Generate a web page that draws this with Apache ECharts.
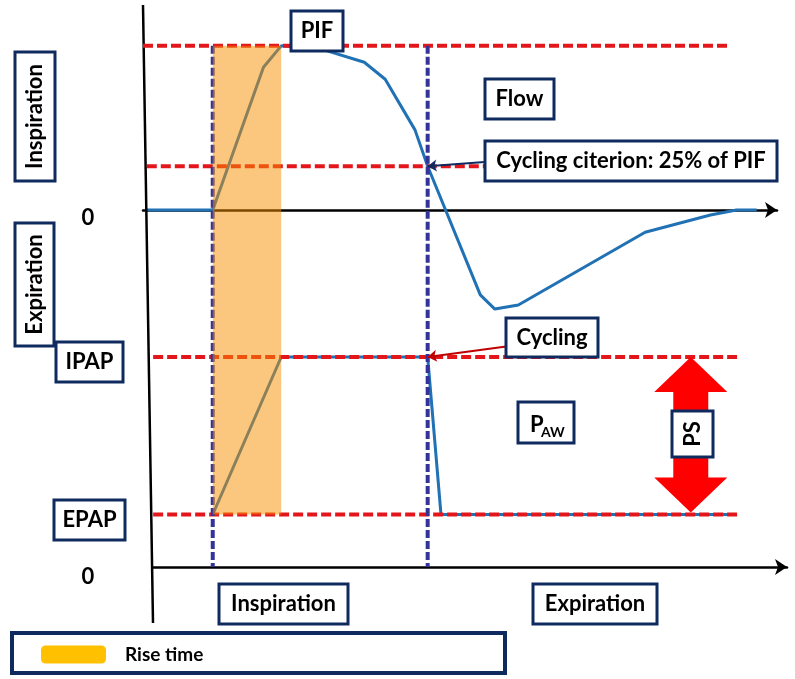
<!DOCTYPE html>
<html>
<head>
<meta charset="utf-8">
<script src="https://cdn.jsdelivr.net/npm/echarts@6/dist/echarts.min.js"></script>
<style>
html,body{margin:0;padding:0;background:#fff;}
#chart{width:795px;height:679px;}
</style>
</head>
<body>
<div id="chart"></div>
<script>
// ---------- DATA (time in arbitrary units, flow in L/min, pressure in cmH2O) ----------
const flowTimes  = [0.3, 11, 19, 21.8, 27.9, 34.9, 38.2, 42.9, 44.9, 53.2, 55.5, 59.2, 79.2, 89.5, 93.6, 96.8];
const flowValues = [0,   0,  52.2, 60,  59,   54,   47.8, 29.3, 16,  -31, -36.2, -34.7, -8.1, -1.8, 0,   0];
const pawTimes   = [11, 21.8, 44.9, 47.0, 93.7];
const pawValues  = [5,  20,   20,   5,    5];

const PIF = 60;            // peak inspiratory flow
const CYCLE_FLOW = 16;     // cycling criterion level
const IPAP = 20;
const EPAP = 5;
const T_INSP = 11;         // start of inspiration
const T_RISE_END = 21.8;   // end of rise time
const T_CYCLE = 44.9;      // cycling instant
const T_PS = 86.4;         // position of PS arrow

// reference line extents [start, end]
const pifLineSpan   = [0, 92.3];
const cycleLineSpan = [0.6, 53.9];
const pawLineSpan   = [1.6, 93.7];

// annotation arrows: [from, to]
const cycleCritArrow = [[53.9, 17.6], [T_CYCLE, CYCLE_FLOW]];
const cyclingArrow   = [[57.3, 21.0], [T_CYCLE, IPAP]];

// ---------- LAYOUT ----------
const SPLIT_FLOW = -36.53;  // flow value where the two panels meet
const SPLIT_PAW  = 24.48;   // pressure value where the two panels meet
const FONT = 'Lato, "Open Sans", sans-serif';
const NAVY = '#0f2a5f';
const RED = '#e3161c';
const VIOLET = '#33339a';
const BLUE = '#2171b5';

const zip = (a, b) => a.map((v, i) => [v, b[i]]);

function hLine(grid, span, y, z) {
  return {
    type: 'line', xAxisIndex: grid, yAxisIndex: grid, z: z,
    data: [[span[0], y], [span[1], y]], symbol: 'none', silent: true,
    lineStyle: {color: RED, width: 4, type: [10, 4]}
  };
}
function vLine(grid, x, y0, y1) {
  return {
    type: 'line', xAxisIndex: grid, yAxisIndex: grid, z: 3.5,
    data: [[x, y0], [x, y1]], symbol: 'none', silent: true,
    lineStyle: {color: VIOLET, width: 4, type: [8, 3]}
  };
}
function band(grid, yTop, yBot) {
  return {
    type: 'custom', name: 'Rise time', xAxisIndex: grid, yAxisIndex: grid, z: 4,
    itemStyle: {color: '#ffc000'}, silent: true,
    data: [[T_INSP, T_RISE_END, yTop, yBot]],
    encode: {x: [0, 1], y: [2, 3]},
    renderItem: function (params, api) {
      const p1 = api.coord([api.value(0), api.value(2)]);
      const p2 = api.coord([api.value(1), api.value(3)]);
      return {type: 'rect', shape: {x: p1[0], y: p1[1], width: p2[0] - p1[0], height: p2[1] - p1[1]},
              style: {fill: 'rgba(247,143,0,0.5)'}};
    }
  };
}
function arrowMark(pts, color) {
  return {
    silent: true, symbol: ['none', 'arrow'], symbolSize: 9, animation: false,
    label: {show: false},
    lineStyle: {color: color, width: 2, type: 'solid'},
    data: [[{coord: pts[0]}, {coord: pts[1]}]]
  };
}

const axisLine = {
  show: true, onZero: true, symbol: ['none', 'arrow'], symbolSize: [12, 12],
  lineStyle: {color: '#000', width: 2.5}
};

function box(x, y, w, h, text, rot, size) {
  const els = [{
    type: 'rect', z: 100, shape: {x: x, y: y, width: w, height: h},
    style: {fill: '#fff', stroke: NAVY, lineWidth: 3}
  }];
  if (text) {
    els.push({
      type: 'text', z: 101, x: x + w / 2, y: y + h / 2, rotation: rot ? Math.PI / 2 : 0,
      style: {text: text, x: 0, y: 0, align: 'center', verticalAlign: 'middle',
              textAlign: 'center', textVerticalAlign: 'middle',
              font: 'bold ' + (size || 22) + 'px ' + FONT, fill: '#000'}
    });
  }
  return els;
}
function label(x, y, text, size, align) {
  return {
    type: 'text', z: 101, x: x, y: y,
    style: {text: text, x: 0, y: 0, align: align || 'center', verticalAlign: 'middle',
            textAlign: align || 'center', textVerticalAlign: 'middle',
            font: 'bold ' + size + 'px ' + FONT, fill: '#000'}
  };
}

const graphics = [].concat(
  [{type: 'line', z: 3, shape: {x1: 143, y1: 5, x2: 153, y2: 623}, style: {stroke: '#000', lineWidth: 2.5}}],
  box(291, 11, 52, 40, 'PIF'),
  box(485, 79, 69, 40, 'Flow'),
  box(485, 141, 292, 40, 'Cycling citerion: 25% of PIF'),
  box(15, 52, 40, 129, 'Inspiration', true),
  box(15, 223, 39, 123, 'Expiration', true),
  box(56, 342, 67, 40, 'IPAP'),
  box(506, 318, 92, 39, 'Cycling'),
  box(518, 402, 56, 41, ''),
  box(672, 411, 41, 46, 'PS', true),
  box(54, 500, 71, 40, 'EPAP'),
  box(219, 584, 129, 40, 'Inspiration'),
  box(533, 584, 124, 40, 'Expiration'),
  [{type: 'rect', z: 100, shape: {x: 12, y: 633, width: 493, height: 40},
    style: {fill: 'none', stroke: NAVY, lineWidth: 4}}],
  [label(88, 218, '0', 22), label(88, 577, '0', 22),
   label(530, 424.5, 'P', 22, 'left'), label(541, 432, 'AW', 14, 'left')]
);

const option = {
  animation: false,
  backgroundColor: '#fff',
  legend: {
    data: ['Rise time'], left: 36, top: 640, icon: 'roundRect',
    itemWidth: 65, itemHeight: 18, selectedMode: false,
    textStyle: {fontFamily: 'Lato', fontSize: 19, fontWeight: 'bold', color: '#000', padding: [0, 0, 0, 14]}
  },
  grid: [
    {left: 143, top: 18.5, width: 634, height: 301},
    {left: 153, top: 304.5, width: 634, height: 262.5}
  ],
  xAxis: [
    {gridIndex: 0, type: 'value', min: 0, max: 100, axisLine: axisLine,
     axisTick: {show: false}, axisLabel: {show: false}, splitLine: {show: false}},
    {gridIndex: 1, type: 'value', min: 1.577, max: 101.577, axisLine: axisLine,
     axisTick: {show: false}, axisLabel: {show: false}, splitLine: {show: false}}
  ],
  yAxis: [
    {gridIndex: 0, type: 'value', min: -40, max: 70, axisLine: {show: false},
     axisTick: {show: false}, axisLabel: {show: false}, splitLine: {show: false}},
    {gridIndex: 1, type: 'value', min: 0, max: 25, axisLine: {show: false},
     axisTick: {show: false}, axisLabel: {show: false}, splitLine: {show: false}}
  ],
  series: [
    {type: 'line', name: 'Flow', xAxisIndex: 0, yAxisIndex: 0, z: 2, data: zip(flowTimes, flowValues),
     symbol: 'none', lineStyle: {color: BLUE, width: 3}, markLine: arrowMark(cycleCritArrow, NAVY)},
    {type: 'line', name: 'Paw', xAxisIndex: 1, yAxisIndex: 1, z: 2, data: zip(pawTimes, pawValues),
     symbol: 'none', lineStyle: {color: BLUE, width: 3}, markLine: arrowMark(cyclingArrow, '#c00000')},
    hLine(0, pifLineSpan, PIF, 3),
    hLine(0, cycleLineSpan, CYCLE_FLOW, 3),
    hLine(1, pawLineSpan, IPAP, 3),
    hLine(1, pawLineSpan, EPAP, 3),
    vLine(0, T_INSP, PIF, SPLIT_FLOW),
    vLine(0, T_CYCLE, PIF, SPLIT_FLOW),
    vLine(1, T_INSP, SPLIT_PAW, 0),
    vLine(1, T_CYCLE, SPLIT_PAW, 0),
    band(0, PIF, SPLIT_FLOW),
    band(1, SPLIT_PAW, EPAP),
    {type: 'custom', name: 'PS', xAxisIndex: 1, yAxisIndex: 1, z: 4.5, silent: true,
     data: [[T_PS, IPAP, EPAP]], encode: {x: 0, y: [1, 2]},
     renderItem: function (params, api) {
       const top = api.coord([api.value(0), api.value(1)]);
       const bot = api.coord([api.value(0), api.value(2)]);
       const cx = top[0], hw = 36.5, sw = 17.5, hh = 35, t = top[1], b = bot[1] - 2;
       return {type: 'polygon', shape: {points: [
         [cx, t], [cx + hw, t + hh], [cx + sw, t + hh], [cx + sw, b - hh], [cx + hw, b - hh],
         [cx, b], [cx - hw, b - hh], [cx - sw, b - hh], [cx - sw, t + hh], [cx - hw, t + hh]]},
         style: {fill: '#ff0000'}};
     }}
  ],
  graphic: {elements: graphics}
};

const chart = echarts.init(document.getElementById('chart'));
chart.setOption(option);
</script>
</body>
</html>
